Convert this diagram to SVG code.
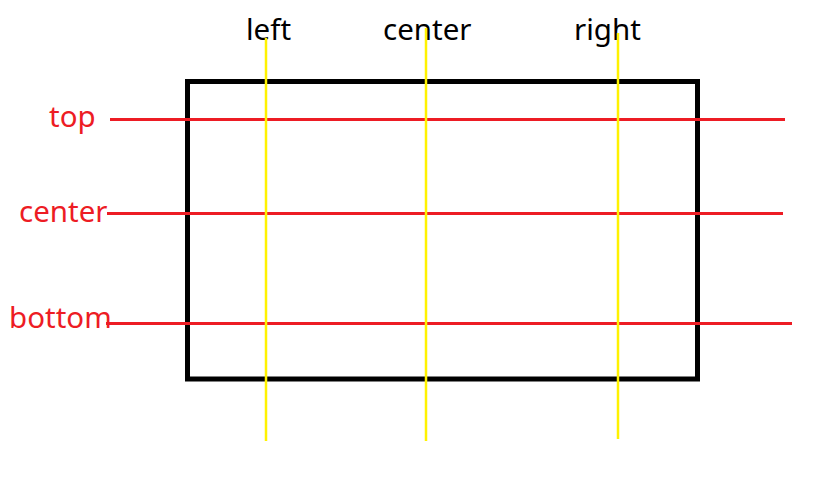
<svg xmlns="http://www.w3.org/2000/svg" width="839" height="489" viewBox="0 0 839 489">
<style>
.lbl{font-family:"Noto Sans","Open Sans","Liberation Sans",sans-serif;font-size:29.5px}
.blk{fill:#000}
.red{fill:#ED1C24}
.h{stroke:#ED1C24;stroke-width:3;fill:none}
.v{stroke:#FFF200;stroke-width:2.5;fill:none}
</style>
<rect width="839" height="489" fill="#fff"/>
<g id="box"><rect x="187.5" y="81.5" width="510" height="297.5" fill="none" stroke="#000" stroke-width="5"/></g>
<g id="labels">
<text id="t-left" class="lbl blk" x="246" y="40">left</text>
<text id="t-hcenter" class="lbl blk" x="383" y="40">center</text>
<text id="t-right" class="lbl blk" x="574" y="40">right</text>
<text id="t-top" class="lbl red" x="49" y="127">top</text>
<text id="t-vcenter" class="lbl red" x="19" y="222">center</text>
<text id="t-bottom" class="lbl red" x="9" y="328">bottom</text>
</g>
<g id="connectors">
<line class="h" x1="110" y1="119.5" x2="785" y2="119.5"/>
<line class="h" x1="107" y1="213.5" x2="783" y2="213.5"/>
<line class="h" x1="106" y1="323.5" x2="792" y2="323.5"/>
<line class="v" x1="266" y1="38" x2="266" y2="441"/>
<line class="v" x1="426" y1="28" x2="426" y2="441"/>
<line class="v" x1="618" y1="33" x2="618" y2="439"/>
</g>
</svg>
